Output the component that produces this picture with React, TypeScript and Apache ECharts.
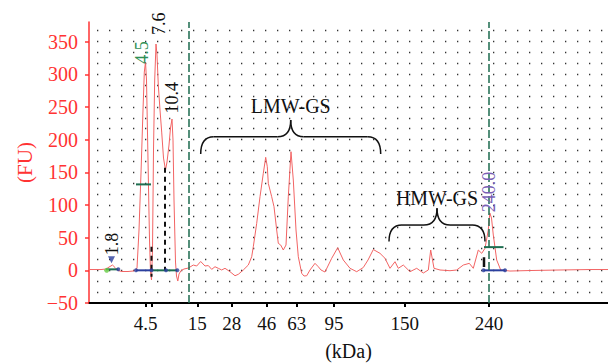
import React, { useEffect, useRef } from 'react';
import * as echarts from 'echarts';

// Migration position (arbitrary time units) and fluorescence (FU)
const times = [0, 0.6, 1.2, 1.7, 2.0, 2.35, 2.6, 2.9, 3.3, 3.9,
  4.4, 4.6, 4.8, 5.0, 5.2, 5.4, 5.53, 5.65, 5.75, 5.9,
  6.05, 6.15, 6.25, 6.35, 6.45, 6.57, 6.7, 6.8, 6.93, 7.1,
  7.27, 7.45, 7.65, 7.8, 8.0, 8.15, 8.3, 8.4, 8.5, 8.65,
  8.75, 8.88, 9.0, 9.2, 9.5, 9.93, 10.43, 10.77, 11.17, 11.6,
  11.93, 12.27, 12.6, 12.93, 13.27, 13.6, 14.1, 14.6, 14.93, 15.43,
  15.93, 16.27, 16.43, 16.77, 17.1, 17.43, 17.67, 17.83, 17.93, 18.27,
  18.5, 18.77, 18.93, 19.17, 19.43, 19.7, 19.93, 20.2, 20.43, 20.7,
  20.93, 21.27, 21.5, 21.77, 22.1, 22.6, 22.93, 23.2, 23.6, 24.27,
  24.87, 25.43, 26.1, 26.77, 27.43, 27.9, 28.43, 29.1, 29.6, 30.1,
  30.6, 30.93, 31.43, 32.1, 32.77, 33.43, 33.93, 34.17, 34.5, 35.1,
  36.1, 36.77, 37.43, 38.03, 38.43, 38.93, 39.27, 39.6, 39.93, 40.08,
  40.25, 40.43, 40.77, 41.17, 42.1, 44.1, 47.1, 50.1, 51.9];
const fu = [1.2, 1.2, 1.2, 2.0, 5.0, 8.1, 4.3, -0.3, -1.8, -1.8,
  -1.1, -0.3, 3.5, 61.7, 148.9, 245.3, 303.4, 318.7, 291.2, 168.8,
  46.4, -2.6, -14.8, 31.1, 184.1, 291.2, 346.3, 329.5, 283.6, 245.3,
  211.6, 171.8, 153.5, 165.7, 191.7, 217.8, 231.5, 199.4, 107.6, 12.7,
  -8.7, -16.4, -5.7, -0.3, 2.0, 3.5, 8.1, 6.6, 13.5, 6.6,
  7.3, 1.5, 5.5, 3.1, 0.5, 3.1, -2.1, -8.3, -6.1, 0.5,
  8.1, 20.8, 36.1, 71.9, 112.6, 148.4, 172.9, 158.5, 133.1, 112.6,
  97.3, 61.7, 41.3, 38.7, 31.1, 38.7, 112.6, 181.5, 138.2, 61.7,
  20.8, -4.6, -8.7, -8.3, 0.5, 10.7, 5.5, 0.5, -2.6, 18.4,
  34.6, 15.8, 3.1, -2.1, 4.3, 15.8, 31.8, 26.0, 18.4, 3.1,
  13.2, 3.1, 8.1, -2.1, 3.1, -4.1, 0.5, 31.1, 3.1, 0.5,
  -0.6, 0.5, 8.1, 10.7, 3.1, 31.1, 26.0, 33.7, 61.7, 87.7,
  80.0, 54.0, 15.8, 0.5, -1.1, -0.3, 0.5, 1.2, 1.2];

// X axis (kDa ladder)
const xTickTimes = [5.67, 6.27, 10.83, 14.27, 17.77, 20.77, 24.5, 31.57, 40.0];
const xLabelTimes = [5.67, 10.83, 14.27, 17.77, 20.77, 24.5, 31.57, 40.0];
const xLabelsKDa = ['4.5', '15', '28', '46', '63', '95', '150', '240'];
const yTickValues = [-50, 0, 50, 100, 150, 200, 250, 300, 350];
const regionBounds = [10.0, 40.0];

// Peak annotations
const peakTexts = ['1.8', '4.5', '7.6', '10.4', '240.0'];
const peakTimes = [2.25, 5.3, 6.95, 8.3, 39.95];
const peakFU = [23, 316, 360, 240, 89];
const peakColors = ['#111111', '#2f8f55', '#111111', '#111111', '#7b5fb5'];

// Peak-integration markers
const greenSegments = [
  [[4.7, 131.5], [6.2, 131.5]],
  [[6.25, 0], [8.83, 0]],
  [[1.7, 1.5], [2.93, 1.5]],
  [[39.5, 35.5], [41.45, 35.5]],
];
const blueSegments = [
  [[4.7, 0], [6.25, 0]],
  [[39.45, 0], [41.6, 0]],
];
const blueDots = [[4.7, 0], [6.25, 0], [7.7, 0], [8.83, 0], [2.93, 1.5], [39.45, 0], [41.6, 0]];
const blackDashed = [
  [[6.25, 36], [6.25, -10]],
  [[7.6, 157], [7.6, 0]],
];
const blackSolid = [[[39.5, 20], [39.5, 5]]];
const blueTriangle = [[2.25, 16]];
const greenDot = [[1.77, 0]];

// Braces
const braceTexts = ['LMW-GS', 'HMW-GS'];
const braceStart = [11.17, 30.0];
const braceEnd = [29.17, 39.6];
const braceEndFU = [178, 44];
const braceBarFU = [204.4, 69.3];
const braceTipFU = [230, 95];
const braceTextFU = [251.5, 110.5];

const SERIF = '"Liberation Serif", "DejaVu Serif", serif';

export default function App() {
  const ref = useRef<HTMLDivElement>(null);
  useEffect(() => {
    if (!ref.current) return;
    const chart = echarts.init(ref.current, undefined, { renderer: 'svg' });
    const segSeries = (segs: number[][][], color: string, width: number, type: any) =>
      segs.map((seg) => ({
        type: 'line', data: seg, symbol: 'none', silent: true, z: 4,
        lineStyle: { color, width, type },
      }));
    const option: any = {
      animation: false,
      backgroundColor: '#ffffff',
      grid: { left: 89, right: 0, top: 22, bottom: 60, containLabel: false, outerBoundsMode: 'none' },
      xAxis: {
        type: 'value', min: 0, max: 51.9,
        name: '(kDa)', nameLocation: 'middle', nameGap: 38,
        nameTextStyle: { color: '#111', fontSize: 20, fontFamily: SERIF },
        axisLine: { show: true, onZero: false, lineStyle: { color: '#000', width: 2 } },
        axisTick: { show: true, customValues: xTickTimes, length: 4, lineStyle: { color: '#000', width: 2 } },
        axisLabel: {
          show: true, customValues: xLabelTimes, margin: 11, color: '#111', fontSize: 19, fontFamily: SERIF,
          formatter: (v: number) => {
            const i = xLabelTimes.findIndex((x) => Math.abs(x - v) < 1e-6);
            return i >= 0 ? xLabelsKDa[i] : '';
          },
        },
        splitLine: { show: false },
      },
      yAxis: [
        {
          type: 'value', min: -50, max: 380, interval: 50 / 3, position: 'left',
          axisLine: { show: false }, axisTick: { show: false }, axisLabel: { show: false },
          splitLine: {
            show: true, showMinLine: false, showMaxLine: false,
            lineStyle: { color: '#333', width: 1.3, type: [1.3, 10.7], dashOffset: 3.7 },
          },
        },
        {
          type: 'value', min: -50, max: 380, interval: 50, position: 'left',
          name: '(FU)', nameLocation: 'middle', nameGap: 53,
          nameTextStyle: { color: '#ff3333', fontSize: 21, fontFamily: SERIF },
          axisLine: { show: true, lineStyle: { color: '#ff3333', width: 1.5 } },
          axisTick: { show: true, customValues: yTickValues, length: 4, lineStyle: { color: '#ff3333', width: 1.5 } },
          axisLabel: {
            show: true, customValues: yTickValues, margin: 11, color: '#ff3333', fontSize: 20, fontFamily: SERIF,
            formatter: (v: number) => (v < 0 ? '\u2212' + Math.abs(v) : String(v)),
          },
          splitLine: { show: false },
        },
      ],
      series: [
        {
          type: 'line', name: 'trace', data: times.map((t, i) => [t, fu[i]]),
          symbol: 'none', silent: true, z: 3,
          lineStyle: { color: '#f26464', width: 1 },
          markLine: {
            silent: true, symbol: ['none', 'none'], label: { show: false },
            lineStyle: { color: '#1d6b4f', width: 1.5, type: [8, 3] },
            data: regionBounds.map((b) => ({ xAxis: b })),
          },
        },
        ...segSeries(blueSegments, '#2b3f9e', 2, 'solid'),
        ...segSeries(greenSegments, '#1e6e50', 2, 'solid'),
        ...segSeries(blackDashed, '#111', 2, [5, 4]),
        ...segSeries(blackSolid, '#111', 2.5, 'solid'),
        {
          type: 'scatter', data: blueDots, symbol: 'circle', symbolSize: 4, silent: true, z: 5,
          itemStyle: { color: '#2b3f9e' },
        },
        {
          type: 'scatter', data: blueTriangle, symbol: 'triangle', symbolRotate: 180, symbolSize: 7, silent: true, z: 5,
          itemStyle: { color: '#2b3f9e' },
        },
        {
          type: 'scatter', data: greenDot, symbol: 'circle', symbolSize: 5, silent: true, z: 5,
          itemStyle: { color: '#66cc44' },
        },
      ],
    };
    chart.setOption(option);

    const toPx = (t: number, v: number) =>
      chart.convertToPixel({ xAxisIndex: 0, yAxisIndex: 0 } as any, [t, v]) as unknown as number[];

    const graphics: any[] = [];
    peakTexts.forEach((txt, i) => {
      const [x, y] = toPx(peakTimes[i], peakFU[i]);
      graphics.push({
        type: 'text', x, y, rotation: Math.PI / 2, silent: true, z: 10,
        style: {
          text: txt, fill: peakColors[i], font: `18px ${SERIF}`,
          textAlign: 'left', textVerticalAlign: 'middle', align: 'left', verticalAlign: 'middle',
        },
      });
    });
    braceTexts.forEach((txt, i) => {
      const [xL, yE] = toPx(braceStart[i], braceEndFU[i]);
      const [xR] = toPx(braceEnd[i], braceEndFU[i]);
      const [, yH] = toPx(braceStart[i], braceBarFU[i]);
      const [, yC] = toPx(braceStart[i], braceTipFU[i]);
      const [xT, yT] = toPx((braceStart[i] + braceEnd[i]) / 2, braceTextFU[i]);
      const xM = (xL + xR) / 2;
      const r = 13;
      const st = { stroke: '#111', lineWidth: 1.5, fill: 'none' };
      const curve = (x1: number, y1: number, x2: number, y2: number, cx: number, cy: number) => ({
        type: 'bezierCurve', silent: true, z: 10,
        shape: { x1, y1, x2, y2, cpx1: cx, cpy1: cy }, style: st,
      });
      const line = (x1: number, y1: number, x2: number, y2: number) => ({
        type: 'line', silent: true, z: 10, shape: { x1, y1, x2, y2 }, style: st,
      });
      graphics.push(curve(xL, yE, xL + r, yH, xL, yH));
      graphics.push(line(xL + r, yH, xM - r, yH));
      graphics.push(curve(xM - r, yH, xM, yC, xM, yH));
      graphics.push(curve(xM, yC, xM + r, yH, xM, yH));
      graphics.push(line(xM + r, yH, xR - r, yH));
      graphics.push(curve(xR - r, yH, xR, yE, xR, yH));
      graphics.push({
        type: 'text', x: xT, y: yT, silent: true, z: 10,
        style: {
          text: txt, fill: '#111', font: `20px ${SERIF}`,
          textAlign: 'center', textVerticalAlign: 'middle', align: 'center', verticalAlign: 'middle',
        },
      });
    });
    chart.setOption({ graphic: graphics });

    return () => chart.dispose();
  }, []);
  return (
    <div
      ref={ref}
      style={{ position: 'fixed', left: 0, top: 0, width: 608, height: 363, background: '#fff' }}
    />
  );
}
